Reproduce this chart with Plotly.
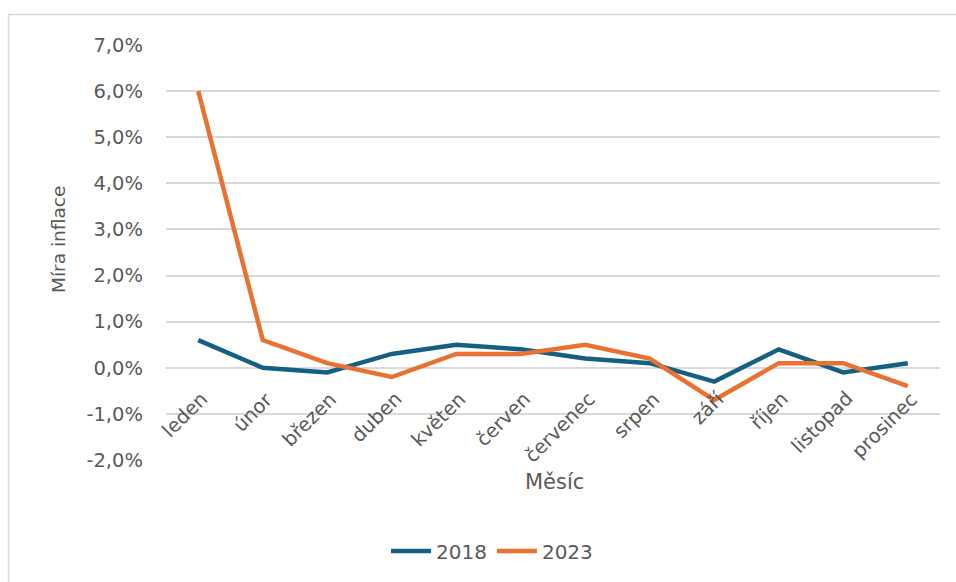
import plotly.graph_objects as go

months = ["leden", "únor", "březen", "duben", "květen", "červen",
          "červenec", "srpen", "září", "říjen", "listopad", "prosinec"]
infl_2018 = [0.6, 0.0, -0.1, 0.3, 0.5, 0.4, 0.2, 0.1, -0.3, 0.4, -0.1, 0.1]
infl_2023 = [6.0, 0.6, 0.1, -0.2, 0.3, 0.3, 0.5, 0.2, -0.7, 0.1, 0.1, -0.4]
y_tick_vals = [-2, -1, 0, 1, 2, 3, 4, 5, 6, 7]
y_tick_text = ["-2,0%", "-1,0%", "0,0%", "1,0%", "2,0%", "3,0%", "4,0%", "5,0%", "6,0%", "7,0%"]

BLUE = "#156082"
ORANGE = "#E97132"
TXT = "#595959"
GRID = "#D9D9D9"
FONT = "DejaVu Sans, Liberation Sans, Arial, sans-serif"

fig = go.Figure()
fig.add_trace(go.Scatter(x=months, y=infl_2018, mode="lines", name="2018",
                         line=dict(color=BLUE, width=4.5)))
fig.add_trace(go.Scatter(x=months, y=infl_2023, mode="lines", name="2023",
                         line=dict(color=ORANGE, width=4.5)))

ymin, ymax = -2, 7

# category labels, rotated, hanging below the zero line
cat_annotations = [
    dict(text=m, x=m, y=0, xref="x", yref="y", textangle=-45,
         xanchor="right", yanchor="top", showarrow=False,
         xshift=17, yshift=-17, font=dict(size=19.5, color=TXT))
    for m in months
]

fig.update_layout(
    width=956, height=582,
    margin=dict(l=166, r=16, t=45, b=122),
    paper_bgcolor="white", plot_bgcolor="white",
    font=dict(family=FONT, size=19.5, color=TXT),
    showlegend=True,
    legend=dict(orientation="h", x=(492 - 166) / 774, xanchor="center",
                y=(460 - 551) / 415, yanchor="middle",
                font=dict(size=20, color=TXT), itemwidth=40,
                bgcolor="rgba(0,0,0,0)"),
    xaxis=dict(type="category", range=[-0.5, 11.5], showgrid=False,
               showline=False, zeroline=False, showticklabels=False, ticks=""),
    yaxis=dict(range=[ymin, ymax], tickvals=y_tick_vals, ticktext=y_tick_text,
               showgrid=True, gridcolor=GRID, gridwidth=1.5, zeroline=False,
               showline=False, ticks="", ticklabelstandoff=22,
               tickfont=dict(size=19.5, color=TXT)),
    shapes=[dict(type="rect", xref="paper", yref="paper",
                 x0=(8.5 - 166) / 774, x1=1.1, y0=-0.5, y1=1 + 30.5 / 415,
                 line=dict(color=GRID, width=1.5), fillcolor="rgba(0,0,0,0)",
                 layer="below")],
    annotations=cat_annotations + [
        dict(text="Míra inflace", xref="paper", yref="paper",
             x=(59 - 166) / 774, y=(460 - 240) / 415, textangle=-90,
             showarrow=False, font=dict(size=18.5, color=TXT),
             xanchor="center", yanchor="middle"),
        dict(text="Měsíc", xref="paper", yref="paper",
             x=(554 - 166) / 774, y=(460 - 482) / 415,
             showarrow=False, font=dict(size=21, color=TXT),
             xanchor="center", yanchor="middle"),
    ],
)

fig.write_html("out.html")
